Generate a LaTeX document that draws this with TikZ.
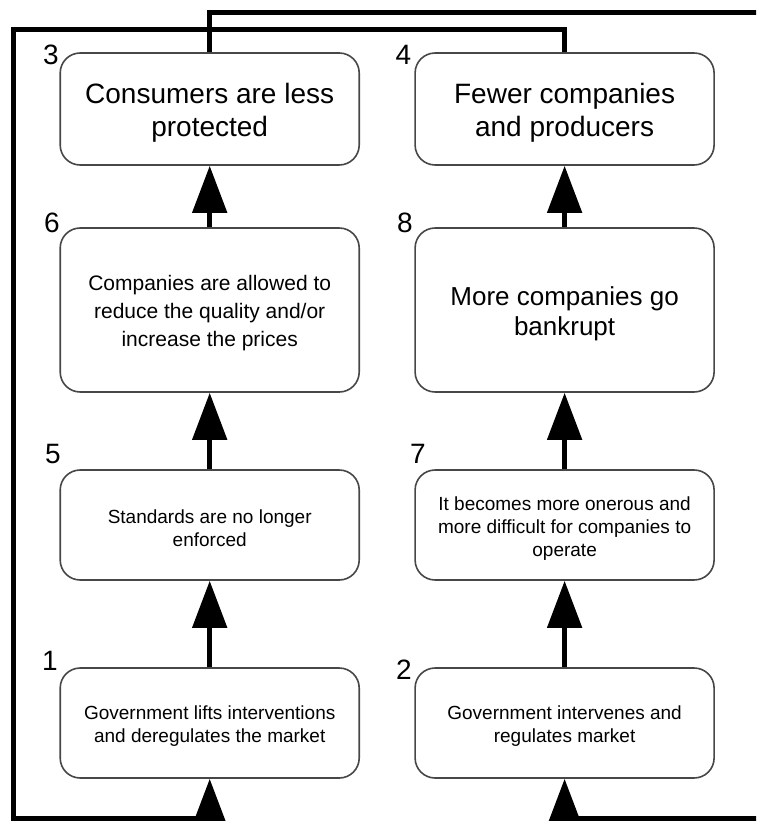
\documentclass[tikz,border=0pt]{standalone}
\usepackage{fontspec}
\setmainfont{Liberation Sans}
\usetikzlibrary{arrows.meta}
% taller first line of each box text, so the block sits a little lower
\newcommand\toplift{\rule{0pt}{\dimexpr0.73em+7pt\relax}}
\begin{document}
\begin{tikzpicture}[x=1pt,y=-1pt,
  box/.style={draw=black!72, line width=1.6pt, rounded corners=20pt, fill=white,
    minimum width=299pt, align=center, inner sep=0pt, text=black},
  flow/.style={line width=5pt, -{Triangle[length=47pt,width=34pt]}},
  num/.style={inner sep=0pt, text=black, font=\fontsize{28}{30}\selectfont},
  big/.style={font=\fontsize{28}{33}\selectfont},
  mid/.style={font=\fontsize{26}{30}\selectfont},
  med/.style={font=\fontsize{21}{28}\selectfont},
  small/.style={font=\fontsize{19}{23}\selectfont},
]
\useasboundingbox (0,0) rectangle (756,821);
\clip (0,0) rectangle (756,821);

% left column: deregulation
\node[box, big,   minimum height=112pt] (b3) at (209.7,109) {\toplift Consumers are less\\protected};
\node[box, med,   minimum height=164pt] (b6) at (209.7,310) {\toplift Companies are allowed to\\reduce the quality and/or\\increase the prices};
\node[box, small, minimum height=110pt] (b5) at (209.7,525) {\toplift Standards are no longer\\enforced};
\node[box, small, minimum height=110pt] (b1) at (209.7,723) {\toplift Government lifts interventions\\and deregulates the market};

% right column: regulation
\node[box, big,   minimum height=112pt] (b4) at (564.6,109) {\toplift Fewer companies\\and producers};
\node[box, mid,   minimum height=164pt] (b8) at (564.6,310) {\toplift More companies go\\bankrupt};
\node[box, small, minimum height=110pt] (b7) at (564.6,525) {\toplift It becomes more onerous and\\more difficult for companies to\\operate};
\node[box, small, minimum height=110pt] (b2) at (564.6,723) {\toplift Government intervenes and\\regulates market};

% step numbers
\node[num] (n3) at (51,55)    {3};
\node[num] (n4) at (403.5,55) {4};
\node[num] (n6) at (52,223)   {6};
\node[num] (n8) at (405,223)  {8};
\node[num] (n5) at (53,454)   {5};
\node[num] (n7) at (418,454)  {7};
\node[num] (n1) at (50,661)   {1};
\node[num] (n2) at (404,670)  {2};

% chains upwards
\draw[flow] (b1) -- (b5);
\draw[flow] (b5) -- (b6);
\draw[flow] (b6) -- (b3);
\draw[flow] (b2) -- (b7);
\draw[flow] (b7) -- (b8);
\draw[flow] (b8) -- (b4);

% feedback loops
\coordinate (tl) at (13.5,29.5);
\coordinate (bl) at (13.5,818.5);
\coordinate (tr) at (790,12.5);
\coordinate (br) at (790,818.5);
\draw[flow] (b4.north) -- (b4.north |- tl) -- (tl) -- (bl) -- (b1.south |- bl) -- (b1.south);
\draw[flow] (b3.north) -- (b3.north |- tr) -- (tr) -- (br) -- (b2.south |- br) -- (b2.south);
\end{tikzpicture}
\end{document}
